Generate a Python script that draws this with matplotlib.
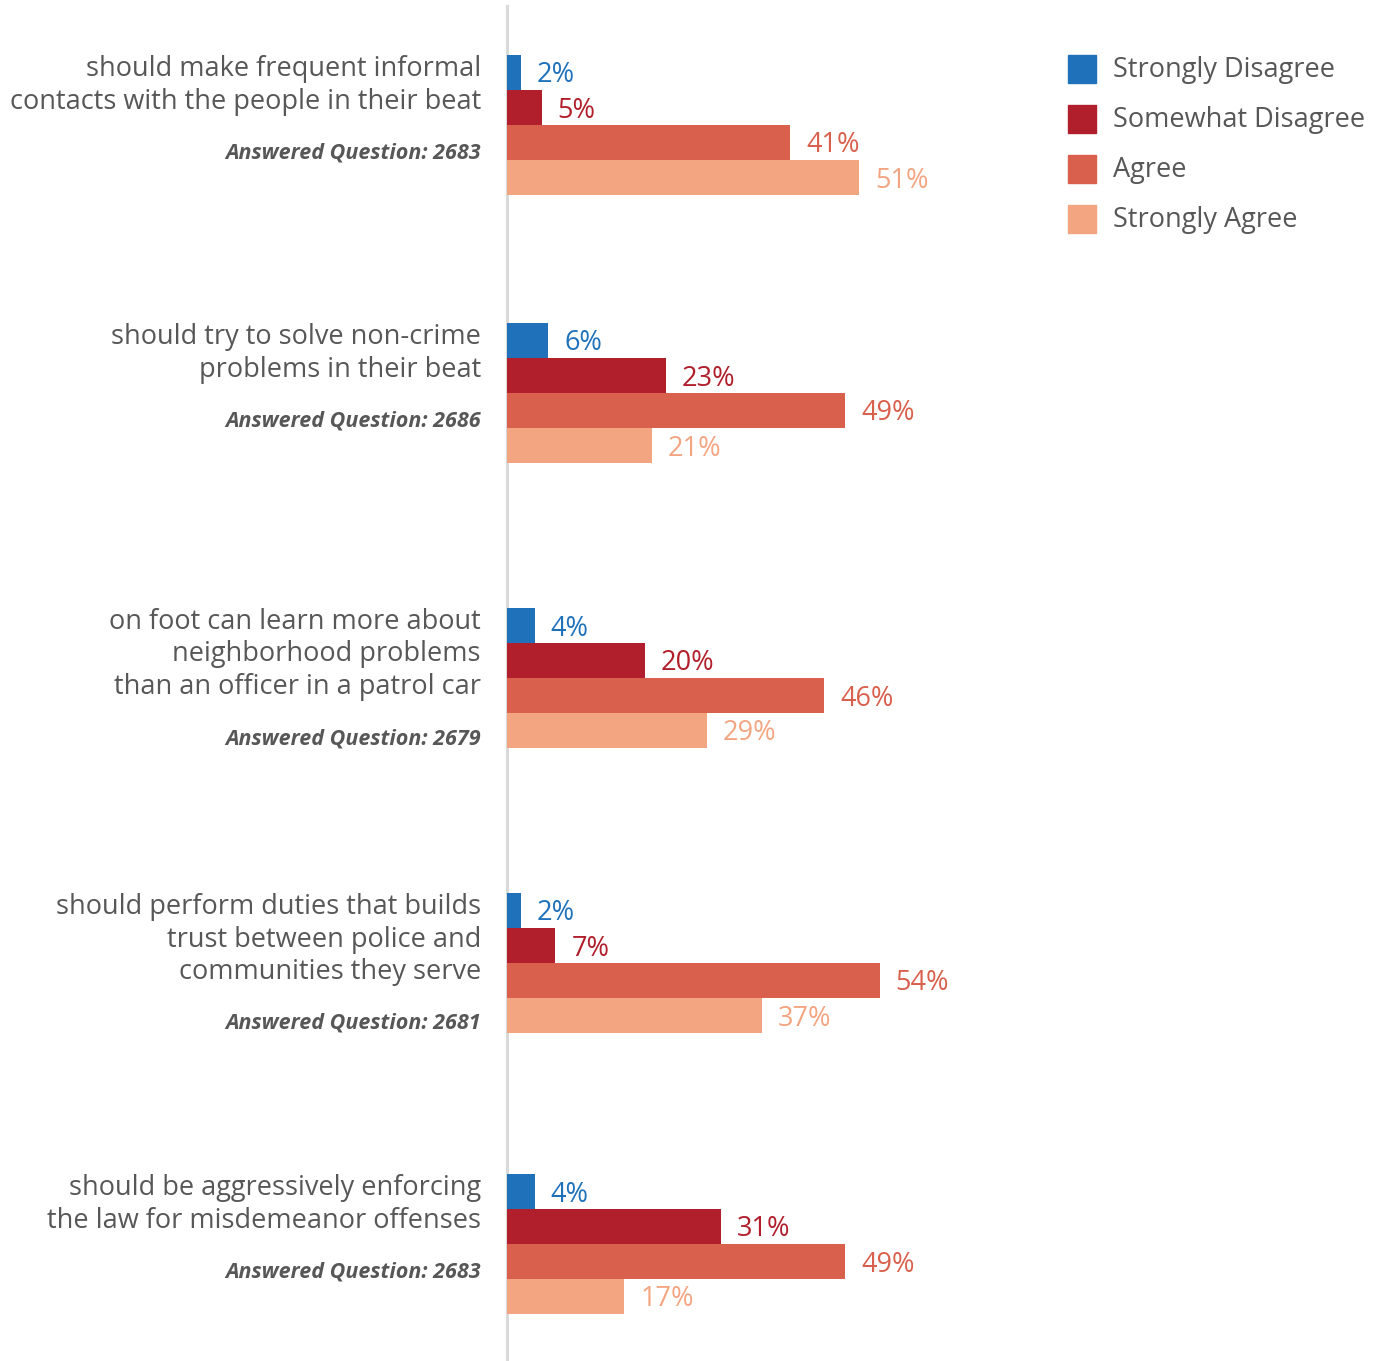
import matplotlib
matplotlib.use('Agg')
import matplotlib.pyplot as plt
from matplotlib.patches import Rectangle

plt.rcParams['font.family'] = ['Open Sans', 'DejaVu Sans']

# data
questions = [
    ['should make frequent informal', 'contacts with the people in their beat'],
    ['should try to solve non-crime', 'problems in their beat'],
    ['on foot can learn more about', 'neighborhood problems', 'than an officer in a patrol car'],
    ['should perform duties that builds', 'trust between police and', 'communities they serve'],
    ['should be aggressively enforcing', 'the law for misdemeanor offenses'],
]
answered = [2683, 2686, 2679, 2681, 2683]
series = ['Strongly Disagree', 'Somewhat Disagree', 'Agree', 'Strongly Agree']
strongly_disagree = [2, 6, 4, 2, 4]
somewhat_disagree = [5, 23, 20, 7, 31]
agree = [41, 49, 46, 54, 49]
strongly_agree = [51, 21, 29, 37, 17]
values = [strongly_disagree, somewhat_disagree, agree, strongly_agree]

colors = ['#1f72ba', '#b01f2b', '#d9604c', '#f3a582']
text_gray = '#575757'

# layout (pixel units, image is 1380 x 1361)
W, H = 1380, 1361
group_top = [55, 323, 608, 893, 1174]
bar_h = 35
px_per_pct = 6.9
ax_left = 507

fig = plt.figure(figsize=(W / 100, H / 100), dpi=100)
ax = fig.add_axes([ax_left / W, 0, (W - ax_left) / W, (H - 6) / H])
ax.set_xlim(0, (W - ax_left) / px_per_pct)
ax.set_ylim(H, 6)

for s, vals in enumerate(values):
    ys = [t + s * bar_h + bar_h / 2 for t in group_top]
    ax.barh(ys, vals, height=bar_h, color=colors[s], zorder=3)
    for y, v in zip(ys, vals):
        ax.text(v + 16 / px_per_pct, y + 10, '%d%%' % v, color=colors[s],
                fontsize=19.5, va='baseline', ha='left')

# question labels
lx = -26 / px_per_pct
for top, lines, n in zip(group_top, questions, answered):
    y = top + 21
    for line in lines:
        ax.text(lx, y, line, ha='right', va='baseline', fontsize=19.5,
                color=text_gray, clip_on=False)
        y += 32.5
    ax.text(lx, y - 32.5 + 50, 'Answered Question: %d' % n, ha='right', va='baseline',
            fontsize=15.5, fontweight='bold', fontstyle='italic', color=text_gray,
            clip_on=False)

for sp in ['top', 'right', 'bottom']:
    ax.spines[sp].set_visible(False)
ax.spines['left'].set_color('#d9d9d9')
ax.spines['left'].set_linewidth(2.2)
ax.set_xticks([])
ax.set_yticks([])

# legend
for i, name in enumerate(series):
    yc = 69 + i * 50
    fig.patches.append(Rectangle((1068 / W, 1 - (yc + 14) / H), 28 / W, 28 / H,
                                 transform=fig.transFigure, color=colors[i]))
    fig.text(1113 / W, 1 - (yc + 8) / H, name, fontsize=19.5, color=text_gray,
             va='baseline')

fig.savefig('out.png', dpi=100)
